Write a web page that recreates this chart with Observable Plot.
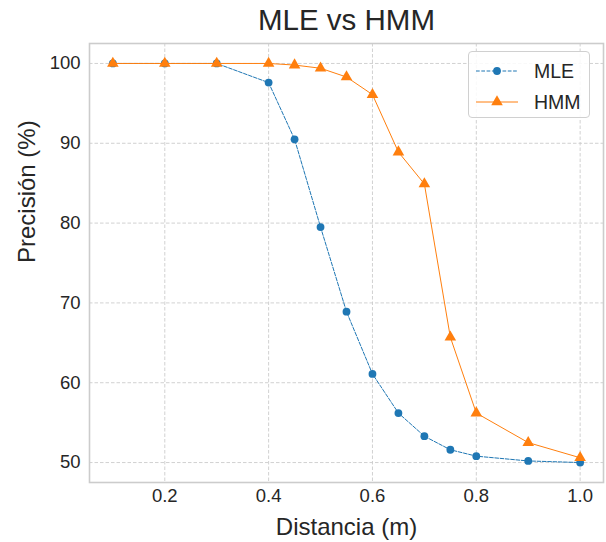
<!DOCTYPE html>
<html>
<head>
<meta charset="utf-8">
<script src="https://cdn.jsdelivr.net/npm/d3@7"></script>
<script src="https://cdn.jsdelivr.net/npm/@observablehq/plot@0.6"></script>
<style>
  html, body { margin: 0; padding: 0; background: #fff; }
  #wrap { position: relative; width: 606px; height: 542px; font-family: "Liberation Sans", Arial, sans-serif; }
  #legend {
    position: absolute; left: 468px; top: 51px; width: 122px; height: 67px;
    border: 1.5px solid #d0d0d0; border-radius: 4px; background: rgba(255,255,255,0.85);
    box-sizing: border-box;
  }
  .row { position: absolute; left: 6px; height: 22px; display: flex; align-items: center; }
  .row span { font-size: 19.5px; color: #262626; margin-left: 15px; }
</style>
</head>
<body>
<div id="wrap">
  <div id="chart"></div>
  <div id="legend"></div>
</div>
<script>
const title = "MLE vs HMM";
const xLabel = "Distancia (m)";
const yLabel = "Precisión (%)";
const distancias = [0.1, 0.2, 0.3, 0.4, 0.45, 0.5, 0.55, 0.6, 0.65, 0.7, 0.75, 0.8, 0.9, 1.0];
const mle = [100, 100, 100, 97.6, 90.5, 79.5, 68.9, 61.1, 56.2, 53.3, 51.6, 50.8, 50.2, 50.0];
const hmm = [100, 100, 100, 100, 99.8, 99.4, 98.3, 96.1, 88.9, 84.9, 65.7, 56.2, 52.5, 50.6];
const seriesNames = ["MLE", "HMM"];
const colors = ["#1f77b4", "#ff7f0e"];
const xTicks = [0.2, 0.4, 0.6, 0.8, 1.0];
const yTicks = [50, 60, 70, 80, 90, 100];

const mleData = distancias.map((d, i) => ({x: d, y: mle[i]}));
const hmmData = distancias.map((d, i) => ({x: d, y: hmm[i]}));

const grid = {stroke: "#cccccc", strokeOpacity: 1, strokeWidth: 0.9, strokeDasharray: "3.5,2"};
const textColor = "#262626";
const triR = 4.3;

const chart = Plot.plot({
  width: 606,
  height: 542,
  marginTop: 43,
  marginLeft: 89,
  marginRight: 3,
  marginBottom: 60,
  style: {fontFamily: "Liberation Sans, Arial, sans-serif", color: textColor, background: "#fff"},
  x: {domain: [0.055, 1.045]},
  y: {domain: [47.5, 102.5]},
  marks: [
    Plot.gridX(xTicks, grid),
    Plot.gridY(yTicks, grid),
    Plot.frame({stroke: "#cccccc", strokeWidth: 1.6}),
    Plot.line(mleData, {x: "x", y: "y", stroke: colors[0], strokeWidth: 1, strokeDasharray: "3.7,1.6"}),
    Plot.dot(mleData, {x: "x", y: "y", r: 3.9, fill: colors[0], stroke: "none"}),
    Plot.line(hmmData, {x: "x", y: "y", stroke: colors[1], strokeWidth: 1}),
    Plot.dot(hmmData, {x: "x", y: "y", r: triR, symbol: "triangle", fill: colors[1], stroke: "none"}),
    Plot.axisX(xTicks, {tickSize: 0, tickPadding: 6, fontSize: 18.5, tickFormat: d3.format(".1f"), label: null, fill: textColor}),
    Plot.axisY(yTicks, {tickSize: 0, tickPadding: 9, fontSize: 18.5, label: null, fill: textColor}),
    Plot.text([xLabel], {frameAnchor: "bottom", lineAnchor: "middle", dy: 45, fontSize: 24, fill: textColor}),
    Plot.text([yLabel], {frameAnchor: "left", lineAnchor: "middle", dx: -62, rotate: -90, fontSize: 24, fill: textColor}),
    Plot.text([title], {frameAnchor: "top", lineAnchor: "middle", dy: -23, fontSize: 29.5, fill: textColor})
  ]
});
document.getElementById("chart").appendChild(chart);

// Legend (HTML overlay)
const legend = document.getElementById("legend");
seriesNames.forEach((name, i) => {
  const row = document.createElement("div");
  row.className = "row";
  row.style.top = (8 + i * 31) + "px";
  const ns = "http://www.w3.org/2000/svg";
  const svg = document.createElementNS(ns, "svg");
  svg.setAttribute("width", 44); svg.setAttribute("height", 20);
  const line = document.createElementNS(ns, "line");
  line.setAttribute("x1", 1); line.setAttribute("x2", 43);
  line.setAttribute("y1", 10); line.setAttribute("y2", 10);
  line.setAttribute("stroke", colors[i]); line.setAttribute("stroke-width", 1);
  if (i === 0) line.setAttribute("stroke-dasharray", "3.7,1.6");
  svg.appendChild(line);
  if (i === 0) {
    const c = document.createElementNS(ns, "circle");
    c.setAttribute("cx", 22); c.setAttribute("cy", 10); c.setAttribute("r", 3.9);
    c.setAttribute("fill", colors[i]);
    svg.appendChild(c);
  } else {
    const p = document.createElementNS(ns, "path");
    p.setAttribute("d", d3.symbol(d3.symbolTriangle, triR * triR * Math.PI)());
    p.setAttribute("transform", "translate(22,10)");
    p.setAttribute("fill", colors[i]);
    svg.appendChild(p);
  }
  row.appendChild(svg);
  const t = document.createElement("span");
  t.textContent = name;
  row.appendChild(t);
  legend.appendChild(row);
});
</script>
</body>
</html>
